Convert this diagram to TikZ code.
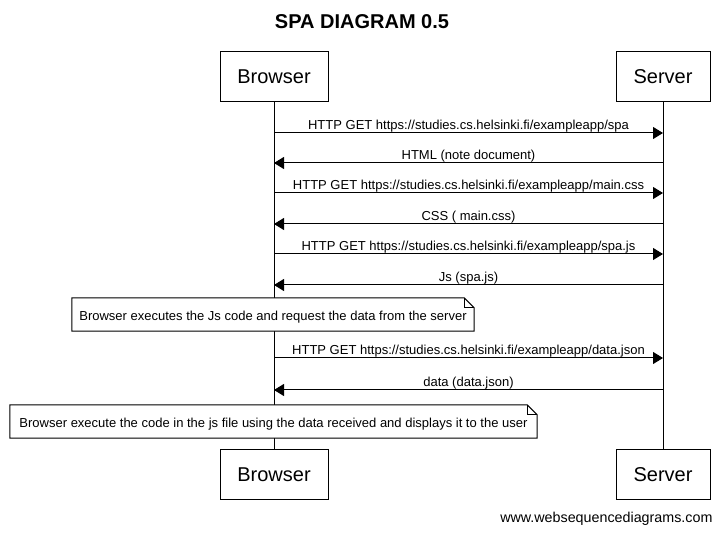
\documentclass[tikz,border=0pt]{standalone}
\usepackage{fontspec}
\setmainfont{Liberation Sans}
\usetikzlibrary{arrows.meta,calc}
\begin{document}
\begin{tikzpicture}[x=1pt,y=-1pt,
  actor/.style={draw,line width=1pt,minimum height=50pt,inner sep=0pt,font=\fontsize{20}{22}\selectfont},
  msg/.style={line width=1pt,-{Triangle[length=10pt,width=12pt]}},
  lbl/.style={font=\fontsize{13}{15}\selectfont,inner sep=1pt,anchor=south},
  notetext/.style={font=\fontsize{13}{15}\selectfont,inner sep=0pt},
  notearea/.style={inner sep=0pt,minimum height=33pt},
  notebox/.style={draw,line width=1pt,fill=white}
]
\useasboundingbox (0,0) rectangle (724,534);
\node[font=\bfseries\fontsize{20}{24}\selectfont] (title) at (362,22) {SPA DIAGRAM 0.5};
\node[actor,minimum width=108pt] (b1) at (274,77) {Browser};
\node[actor,minimum width=94pt] (s1) at (663,77) {Server};
\node[actor,minimum width=108pt] (b2) at (274,475) {Browser};
\node[actor,minimum width=94pt] (s2) at (663,475) {Server};
\draw[line width=1pt] (b1.south) -- (b2.north);
\draw[line width=1pt] (s1.south) -- (s2.north);
% messages
\foreach \y/\d/\t in {
  133/r/{HTTP GET https://studies.cs.helsinki.fi/exampleapp/spa},
  163/l/{HTML (note document)},
  193/r/{HTTP GET https://studies.cs.helsinki.fi/exampleapp/main.css},
  224/l/{CSS ( main.css)},
  254/r/{HTTP GET https://studies.cs.helsinki.fi/exampleapp/spa.js},
  285/l/{Js (spa.js)},
  358/r/{HTTP GET https://studies.cs.helsinki.fi/exampleapp/data.json},
  390/l/{data (data.json)}}{
  \coordinate (bp\y) at (b1.south |- 0,\y);
  \coordinate (sp\y) at (s1.south |- 0,\y);
  \if r\d
    \draw[msg] (bp\y) -- (sp\y);
  \else
    \draw[msg] (sp\y) -- (bp\y);
  \fi
  \node[lbl] (l\y) at ($(bp\y)!0.5!(sp\y)$) {\t};
}
% notes
\node[notearea,minimum width=402pt] (n1) at (273,314.5) {};
\node[notearea,minimum width=527pt] (n2) at (273.5,421.5) {};
\foreach \n in {n1,n2}{
  \draw[notebox] (\n.north west) -- ([xshift=-10pt]\n.north east) -- ([yshift=-10pt]\n.north east) -- (\n.south east) -- (\n.south west) -- cycle;
  \draw[line width=1pt] ([xshift=-10pt]\n.north east) -- ([xshift=-10pt,yshift=-10pt]\n.north east) -- ([yshift=-10pt]\n.north east);
}
\node[notetext] (t1) at ([yshift=-2.5pt]n1.center) {Browser executes the Js code and request the data from the server};
\node[notetext] (t2) at ([yshift=-2.5pt]n2.center) {Browser execute the code in the js file using the data received and displays it to the user};
\node[font=\fontsize{14.3}{16}\selectfont,anchor=east] (foot) at (716,519) {www.websequencediagrams.com};
\end{tikzpicture}
\end{document}
